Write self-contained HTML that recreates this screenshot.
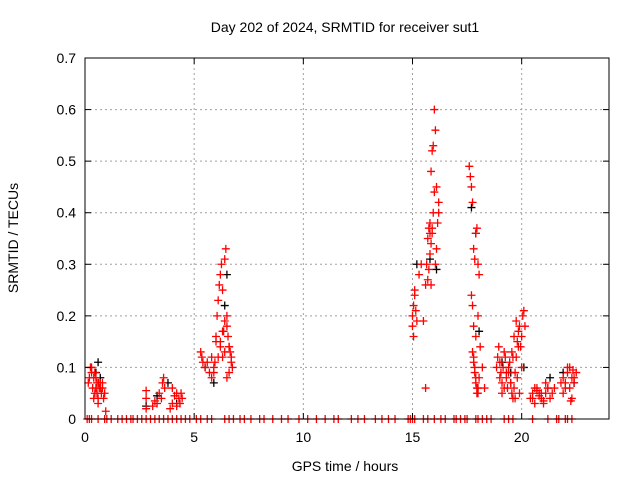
<!DOCTYPE html>
<html><head><meta charset="utf-8"><style>
body{margin:0;background:#fff;}
svg{display:block;font-family:"Liberation Sans",sans-serif;}
</style></head><body>
<svg id="chart" width="640" height="480">
<text x="345" y="32" font-size="14" text-anchor="middle">Day 202 of 2024, SRMTID for receiver sut1</text>
<text x="345" y="471" font-size="14" text-anchor="middle">GPS time / hours</text>
<text x="18" y="238" font-size="14" text-anchor="middle" transform="rotate(-90 18 238)">SRMTID / TECUs</text>
<g id="grid"></g>
<g id="black"></g>
<g id="red"></g>
<rect x="85" y="58" width="524" height="361" fill="none" stroke="#000" stroke-width="1"/>
<g id="ticks"></g>
</svg>
<script>
const xTicks=[0,5,10,15,20];
const yTicks=[0,0.1,0.2,0.3,0.4,0.5,0.6,0.7];
const yTickLabels=["0","0.1","0.2","0.3","0.4","0.5","0.6","0.7"];
const redX=[0.15,0.2,0.25,0.3,0.35,0.4,0.45,0.5,0.55,0.6,0.62,0.65,0.7,0.75,0.8,0.85,0.9,0.3,0.5,0.7,0.4,0.6,0.8,0.45,0.55,0.95,
2.8,2.8,2.8,3.1,3.3,3.5,3.55,3.6,3.65,3.4,3.2,3.9,4.0,4.1,4.2,4.3,4.35,4.4,4.45,4.0,4.2,
5.3,5.35,5.4,5.5,5.6,5.7,5.8,5.9,5.95,6.0,6.05,6.1,6.15,6.2,6.25,6.3,6.35,6.4,6.45,6.5,6.55,6.6,6.65,6.7,6.75,6.2,6.3,6.4,6.5,6.6,6.1,6.0,6.2,6.4,6.6,6.3,6.5,6.7,5.9,5.8,
15.0,15.05,15.1,15.0,15.05,15.1,15.15,15.2,15.3,15.4,15.5,15.6,15.65,15.7,15.75,15.8,15.85,15.9,15.95,16.0,16.05,16.1,16.15,16.2,15.8,15.85,15.9,15.95,16.0,16.1,15.7,15.75,15.8,16.05,15.85,15.9,16.2,15.6,
17.6,17.65,17.7,17.75,17.8,17.85,17.9,17.95,18.0,18.05,17.7,17.75,17.8,17.9,18.0,18.1,17.8,17.85,17.9,17.95,18.0,18.05,17.75,17.8,17.85,17.9,17.95,18.0,18.2,18.3,
18.85,18.9,18.95,19.0,19.05,19.1,19.15,19.2,19.25,19.3,19.35,19.4,19.45,19.5,19.55,19.6,19.65,19.7,19.75,19.8,19.85,19.9,19.95,20.0,20.05,20.1,20.15,19.0,19.2,19.4,19.6,19.8,20.0,19.1,19.3,19.5,19.7,19.9,19.55,19.65,19.75,19.85,
20.4,20.5,20.6,20.7,20.8,20.9,21.0,21.1,21.2,21.3,21.4,20.6,20.8,21.0,21.2,20.5,20.7,20.9,21.1,21.5,
21.8,21.9,22.0,22.1,22.2,22.3,22.4,22.5,21.9,22.1,22.3,22.0,22.2,22.4,22.25,22.35];
const redY=[0.07,0.08,0.1,0.09,0.06,0.04,0.09,0.08,0.05,0.03,0.07,0.06,0.06,0.05,0.07,0.04,0.05,0.1,0.06,0.07,0.08,0.04,0.06,0.05,0.07,0.015,
0.055,0.04,0.02,0.025,0.03,0.04,0.07,0.08,0.06,0.05,0.035,0.02,0.03,0.045,0.05,0.04,0.03,0.05,0.04,0.06,0.025,
0.13,0.12,0.11,0.1,0.11,0.09,0.08,0.09,0.11,0.15,0.2,0.23,0.26,0.28,0.3,0.25,0.17,0.31,0.33,0.18,0.16,0.14,0.13,0.12,0.1,0.15,0.17,0.19,0.2,0.14,0.12,0.16,0.14,0.13,0.09,0.12,0.08,0.11,0.1,0.12,
0.2,0.22,0.25,0.18,0.16,0.24,0.21,0.19,0.28,0.3,0.19,0.26,0.3,0.35,0.37,0.38,0.48,0.52,0.53,0.6,0.56,0.45,0.38,0.42,0.32,0.34,0.36,0.4,0.44,0.33,0.27,0.29,0.36,0.3,0.26,0.37,0.4,0.06,
0.49,0.47,0.45,0.42,0.33,0.31,0.36,0.37,0.3,0.28,0.24,0.22,0.18,0.16,0.2,0.14,0.11,0.09,0.07,0.05,0.06,0.08,0.13,0.12,0.1,0.08,0.06,0.05,0.1,0.06,
0.1,0.12,0.14,0.11,0.09,0.07,0.1,0.13,0.12,0.08,0.06,0.09,0.11,0.07,0.05,0.04,0.06,0.09,0.12,0.15,0.17,0.18,0.14,0.16,0.2,0.21,0.18,0.08,0.06,0.1,0.12,0.08,0.1,0.05,0.09,0.07,0.04,0.05,0.13,0.16,0.19,0.14,
0.04,0.05,0.03,0.06,0.05,0.04,0.03,0.05,0.06,0.04,0.05,0.06,0.045,0.035,0.06,0.04,0.055,0.05,0.07,0.06,
0.07,0.08,0.06,0.09,0.1,0.08,0.07,0.09,0.05,0.1,0.04,0.07,0.06,0.08,0.035,0.095];
const zeroX=[0.1,0.2,0.3,0.6,0.9,1.0,1.2,1.5,1.7,1.9,2.1,2.2,2.4,2.6,2.8,3.0,3.2,3.4,3.6,3.8,4.0,4.2,4.4,4.6,4.8,5.1,5.3,5.6,5.8,6.4,6.6,6.8,7.1,7.3,7.6,8.0,8.2,8.6,9.0,9.3,9.8,10.2,10.6,11.0,11.4,11.6,12.2,12.5,12.8,13.3,13.6,13.9,14.2,14.8,14.9,15.0,15.1,15.5,15.7,16.0,16.3,16.5,16.9,17.0,17.2,17.4,17.5,17.9,18.0,18.2,18.4,18.6,19.2,19.4,19.6,20.5,21.2,21.6,21.7,22.0,22.1,22.3];
const blackX=[0.6,0.5,0.7,2.8,3.3,3.8,4.2,5.5,5.9,6.4,6.5,15.2,15.8,16.1,17.7,17.9,18.05,19.1,19.5,20.1,21.3,21.9,22.4];
const blackY=[0.11,0.09,0.08,0.025,0.045,0.07,0.03,0.1,0.07,0.22,0.28,0.3,0.31,0.29,0.41,0.36,0.17,0.11,0.09,0.1,0.08,0.09,0.07];
const X0=85,X1=609,Y0=419,Y1=58,XMAX=24,YMAX=0.7;
const sx=v=>X0+v/XMAX*(X1-X0), sy=v=>Y0-v/YMAX*(Y0-Y1);
const NS="http://www.w3.org/2000/svg";
function mk(tag,attrs,parent){const e=document.createElementNS(NS,tag);for(const k in attrs)e.setAttribute(k,attrs[k]);parent.appendChild(e);return e;}
const grid=document.getElementById('grid'),ticks=document.getElementById('ticks');
xTicks.forEach(t=>{const x=sx(t);
 if(t>0){const g=mk('line',{x1:x,x2:x,y1:Y1,y2:Y0,stroke:'#a0a0a0','stroke-dasharray':'2,3'},grid);
 
 }
 mk('line',{x1:x,x2:x,y1:Y0,y2:Y0-6,stroke:'#000'},ticks);
 mk('line',{x1:x,x2:x,y1:Y1,y2:Y1+6,stroke:'#000'},ticks);
 const l=mk('text',{x:x,y:442,'font-size':14,'text-anchor':'middle'},ticks);l.textContent=t;
 
 });
yTicks.forEach((t,i)=>{const y=sy(t);
 if(t>0&&t<YMAX){const g=mk('line',{x1:X0,x2:X1,y1:y,y2:y,stroke:'#a0a0a0','stroke-dasharray':'2,3'},grid);
 
 }
 mk('line',{x1:X0,x2:X0+6,y1:y,y2:y,stroke:'#000'},ticks);
 mk('line',{x1:X1,x2:X1-6,y1:y,y2:y,stroke:'#000'},ticks);
 const l=mk('text',{x:X0-9,y:y+5,'font-size':14,'text-anchor':'end'},ticks);l.textContent=yTickLabels[i];
 
 });
function plus(g,x,y,c,name){const p=mk('path',{d:`M${x-4},${y}h8M${x},${y-4}v8`,stroke:c,'stroke-width':1.3,fill:'none'},g);
 
 }
const bg=document.getElementById('black'),rg=document.getElementById('red');
blackX.forEach((v,i)=>plus(bg,sx(v),sy(blackY[i]),'#000','black-point'));
redX.forEach((v,i)=>plus(rg,sx(v),sy(redY[i]),'#ff0000','red-point'));
zeroX.forEach(v=>plus(rg,sx(v),sy(0),'#ff0000','zero-point'));
</script>
</body></html>
